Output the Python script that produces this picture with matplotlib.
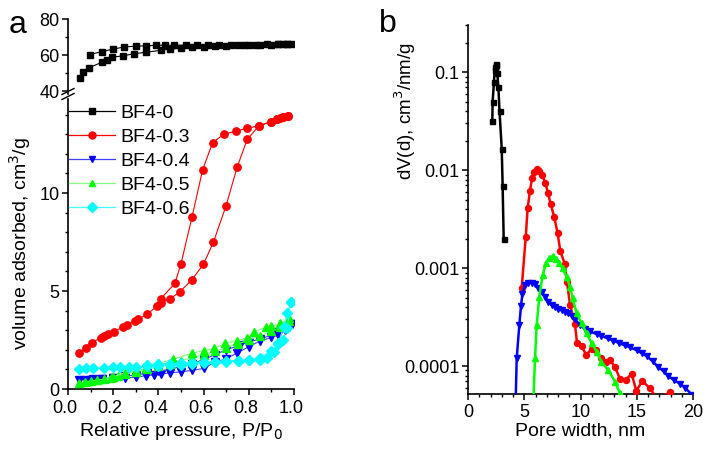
import matplotlib
matplotlib.use("Agg")
import matplotlib.pyplot as plt
from matplotlib.ticker import MultipleLocator, FixedLocator, LogLocator, NullFormatter, FixedFormatter
from matplotlib.lines import Line2D
from matplotlib.transforms import ScaledTranslation

plt.rcParams['font.family'] = ['Liberation Sans', 'DejaVu Sans']

# ---------------- Panel a: isotherms ----------------
labels = ["BF4-0", "BF4-0.3", "BF4-0.4", "BF4-0.5", "BF4-0.6"]
colors = ["#000000", "#ff0000", "#0000ff", "#00ff00", "#00ffff"]
line_colors = ["#000000", "#ff0000", "#4040ff", "#80ff80", "#40ffff"]
markers = ["s", "o", "v", "^", "D"]

p0_ads = [0.053, 0.068, 0.094, 0.149, 0.171, 0.193, 0.245, 0.293, 0.345, 0.41, 0.45, 0.5, 0.55, 0.6,
          0.65, 0.7, 0.75, 0.8, 0.85, 0.9, 0.93, 0.95, 0.97, 0.99]
v0_ads = [47.1, 50.7, 53.0, 55.9, 57.2, 58.7, 59.6, 60.7, 61.5, 62.6, 63.2, 63.8, 64.3, 64.6,
          64.9, 65.1, 65.3, 65.5, 65.6, 65.8, 65.9, 66.0, 66.1, 66.2]
p0_des = [0.97, 0.93, 0.88, 0.83, 0.78, 0.72, 0.67, 0.62, 0.57, 0.52, 0.47, 0.43, 0.39, 0.346,
          0.3, 0.249, 0.198, 0.149, 0.097]
v0_des = [66.1, 66.0, 65.9, 65.8, 65.7, 65.6, 65.6, 65.5, 65.5, 65.4, 65.4, 65.4, 65.4, 65.1,
          64.9, 64.5, 63.2, 61.9, 60.2]

p3_ads = [0.05, 0.078, 0.105, 0.145, 0.16, 0.178, 0.204, 0.245, 0.26, 0.296, 0.31, 0.351, 0.395, 0.41,
          0.451, 0.496, 0.547, 0.599, 0.643, 0.699, 0.749, 0.793, 0.845, 0.897, 0.923, 0.94, 0.953, 0.975]
v3_ads = [1.85, 2.1, 2.36, 2.62, 2.7, 2.79, 2.92, 3.18, 3.25, 3.49, 3.55, 3.83, 4.23, 4.4,
          4.59, 4.97, 5.56, 6.36, 7.48, 9.34, 11.34, 12.74, 13.43, 13.64, 13.78, 13.85, 13.9, 13.95]
p3_des = [0.975, 0.953, 0.923, 0.897, 0.845, 0.79, 0.742, 0.689, 0.64, 0.596, 0.549, 0.5, 0.473, 0.41]
v3_des = [13.95, 13.9, 13.78, 13.64, 13.43, 13.3, 13.16, 13.0, 12.57, 11.2, 8.79, 6.39, 5.39, 4.6]

p4_ads = [0.05, 0.08, 0.11, 0.15, 0.2, 0.25, 0.3, 0.345, 0.38, 0.41, 0.45, 0.5, 0.55, 0.6,
          0.65, 0.7, 0.746, 0.8, 0.85, 0.9, 0.93, 0.96, 0.98, 0.99]
v4_ads = [0.46, 0.48, 0.5, 0.52, 0.55, 0.57, 0.6, 0.68, 0.72, 0.76, 0.82, 0.88, 0.95, 1.05,
          1.36, 1.55, 1.82, 2.16, 2.45, 2.63, 2.76, 3.0, 3.18, 3.3]
p4_des = [0.99, 0.96, 0.93, 0.9, 0.85, 0.8, 0.76, 0.7, 0.65, 0.6, 0.55, 0.5, 0.45, 0.4,
          0.35, 0.3, 0.25, 0.2, 0.15, 0.1]
v4_des = [3.3, 3.05, 2.9, 2.75, 2.55, 2.4, 2.24, 2.0, 1.75, 1.5, 1.3, 1.15, 1.0, 0.9,
          0.8, 0.72, 0.65, 0.58, 0.52, 0.48]

p5_ads = [0.05, 0.075, 0.1, 0.13, 0.16, 0.19, 0.22, 0.25, 0.3, 0.35, 0.4, 0.45, 0.5, 0.55,
          0.6, 0.65, 0.7, 0.75, 0.8, 0.85, 0.9, 0.94, 0.98]
v5_ads = [0.29, 0.37, 0.41, 0.45, 0.5, 0.58, 0.65, 0.75, 0.88, 1.0, 1.15, 1.3, 1.45, 1.6,
          1.75, 1.92, 2.1, 2.3, 2.5, 2.72, 2.95, 3.15, 3.45]
p5_des = [0.98, 0.94, 0.9, 0.876, 0.824, 0.79, 0.746, 0.695, 0.646, 0.6, 0.547, 0.463, 0.4,
          0.345, 0.3, 0.25, 0.2]
v5_des = [3.6, 3.35, 3.2, 3.15, 2.92, 2.58, 2.47, 2.33, 2.07, 1.96, 1.82, 1.51, 1.31,
          1.05, 0.93, 0.83, 0.62]

p6_ads = [0.05, 0.08, 0.11, 0.16, 0.2, 0.23, 0.27, 0.3, 0.35, 0.4, 0.45, 0.5, 0.55, 0.6,
          0.65, 0.7, 0.757, 0.8, 0.85, 0.88, 0.91, 0.93, 0.95, 0.97, 0.985]
v6_ads = [1.02, 1.05, 1.06, 1.08, 1.1, 1.1, 1.12, 1.13, 1.15, 1.18, 1.2, 1.25, 1.3, 1.33,
          1.38, 1.4, 1.43, 1.5, 1.5, 1.6, 1.9, 2.3, 2.5, 3.1, 4.42]
p6_des = [0.985, 0.97, 0.955, 0.93, 0.9, 0.85, 0.8, 0.75, 0.7, 0.65, 0.6, 0.55, 0.5, 0.45, 0.4, 0.35]
v6_des = [4.42, 3.86, 3.15, 2.36, 1.95, 1.6, 1.5, 1.45, 1.45, 1.4, 1.38, 1.35, 1.32, 1.3, 1.28, 1.2]

# ---------------- Panel b: pore size distributions ----------------
d0 = [2.16, 2.19, 2.31, 2.37, 2.42, 2.47, 2.52, 2.6, 2.7, 2.8, 3.0, 3.08, 3.17]
dv0 = [0.0316, 0.05, 0.08, 0.105, 0.112, 0.12, 0.118, 0.098, 0.071, 0.040, 0.0164, 0.0068, 0.002]

d3 = [4.77, 5.13, 5.3, 5.51, 5.69, 5.87, 6.1, 6.34, 6.58, 6.88, 7.11, 7.35, 7.67, 7.97, 8.2, 8.6,
      8.8, 9.07, 9.5, 9.7, 10.1, 10.5, 11.0, 11.4, 11.85, 12.3, 12.6, 13.07, 13.5, 14.0, 14.55,
      14.96, 15.5, 16.2, 16.8, 17.95]
dv3 = [6.2e-4, 2.06e-3, 4.06e-3, 6.15e-3, 8.2e-3, 9.6e-3, 1.02e-2, 9.8e-3, 8.9e-3, 7.4e-3, 5.8e-3,
       4.5e-3, 3.3e-3, 2.26e-3, 1.5e-3, 1.1e-3, 7.2e-4, 4.2e-4, 2.7e-4, 1.7e-4, 1.6e-4, 1.3e-4,
       1.5e-4, 1.45e-4, 1.22e-4, 1.1e-4, 1.15e-4, 9.8e-5, 7.4e-5, 7.2e-5, 8.3e-5, 5.6e-5, 7.0e-5,
       5.9e-5, 4.6e-5, 5.4e-5]

d4 = [4.2, 4.33, 4.56, 4.71, 4.83, 5.07, 5.37, 5.66, 5.96, 6.26, 6.55, 6.85, 7.14, 7.44, 7.73,
      8.03, 8.33, 8.62, 8.92, 9.21, 9.5, 9.96, 10.4, 10.84, 11.44, 11.85, 12.4, 12.9, 13.4, 13.96,
      14.4, 15.0, 15.45, 15.9, 16.4, 16.9, 17.4, 17.8, 18.3, 18.84, 19.3, 19.9]
dv4 = [3e-5, 1.2e-4, 2.6e-4, 4.1e-4, 5.4e-4, 6.7e-4, 7.1e-4, 7.1e-4, 6.8e-4, 6.3e-4, 5.65e-4,
       5.1e-4, 4.5e-4, 4.2e-4, 3.97e-4, 3.8e-4, 3.7e-4, 3.58e-4, 3.45e-4, 3.25e-4, 3.0e-4, 2.62e-4,
       2.4e-4, 2.25e-4, 2.12e-4, 2.03e-4, 1.92e-4, 1.82e-4, 1.72e-4, 1.62e-4, 1.55e-4, 1.45e-4,
       1.35e-4, 1.26e-4, 1.12e-4, 9.8e-5, 8.8e-5, 7.9e-5, 7.2e-5, 6.6e-5, 6.0e-5, 5.1e-5]

d5 = [5.75, 5.96, 6.1, 6.34, 6.64, 6.93, 7.23, 7.53, 7.82, 8.12, 8.41, 8.77, 9.07, 9.3, 9.66,
      10.1, 10.55, 11.0, 11.44, 11.85, 12.47, 13.07, 13.5, 13.8]
dv5 = [3e-5, 1.2e-4, 2.6e-4, 5.1e-4, 8.5e-4, 1.12e-3, 1.26e-3, 1.33e-3, 1.23e-3, 1.12e-3, 9.9e-4,
       8.1e-4, 6.4e-4, 4.9e-4, 3.45e-4, 2.73e-4, 2.15e-4, 1.7e-4, 1.4e-4, 1.1e-4, 9.1e-5, 6.9e-5,
       5.3e-5, 4.0e-5]

# ---------------- Figure ----------------
W, H = 712, 454
fig = plt.figure(figsize=(W / 100, H / 100), dpi=100)

def fx(px):
    return px / W

def fy(py):
    return 1 - py / H

ax_lo = fig.add_axes([fx(68), fy(389), fx(294) - fx(68), fy(99) - fy(389)])
ax_hi = fig.add_axes([fx(68), fy(93.7), fx(294) - fx(68), fy(19) - fy(93.7)])
ax_b = fig.add_axes([fx(468), fy(394), fx(693) - fx(468), fy(25) - fy(394)])

TICK_FS = 13
LABEL_FS = 14

for ax in (ax_lo, ax_hi, ax_b):
    ax.spines['top'].set_visible(False)
    ax.spines['right'].set_visible(False)
    for s in ('left', 'bottom'):
        ax.spines[s].set_linewidth(1.2)
    ax.tick_params(which='major', length=4.5, width=1.1, labelsize=TICK_FS, direction='out', pad=1.5)
    ax.tick_params(which='minor', length=2.5, width=1.0, direction='out')
ax_lo.tick_params(axis='x', which='major', pad=3.5)
ax_b.tick_params(axis='x', which='major', pad=2.5)

a_series = [
    (p0_ads, v0_ads, p0_des, v0_des),
    (p3_ads, v3_ads, p3_des, v3_des),
    (p4_ads, v4_ads, p4_des, v4_des),
    (p5_ads, v5_ads, p5_des, v5_des),
    (p6_ads, v6_ads, p6_des, v6_des),
]
msizes = [4.3, 5.3, 5.3, 5.3, 5.0]
for i, (pa, va, pd, vd) in enumerate(a_series):
    target = ax_hi if i == 0 else ax_lo
    for (px, vy) in ((pa, va), (pd, vd)):
        target.plot(px, vy, color=line_colors[i], lw=0.8, marker=markers[i], ms=msizes[i],
                    mfc=colors[i], mec=colors[i], zorder=3 if i != 1 else 4)

ax_lo.set_xlim(0, 1.0)
ax_hi.set_xlim(0, 1.0)
ax_lo.set_ylim(0, 14.8)
ax_hi.set_ylim(38.5, 80)
ax_lo.xaxis.set_minor_locator(MultipleLocator(0.1))
ax_lo.set_xticks([0.0, 0.2, 0.4, 0.6, 0.8, 1.0])
ax_lo.set_xticklabels(["0.0", "0.2", "0.4", "0.6", "0.8", "1.0"])
shift = ScaledTranslation(-3 / 100, 0, fig.dpi_scale_trans)
for lab in ax_lo.get_xticklabels():
    lab.set_transform(lab.get_transform() + shift)
ax_lo.yaxis.set_major_locator(FixedLocator([0, 5, 10]))
ax_lo.yaxis.set_minor_locator(FixedLocator([1, 2, 3, 4, 6, 7, 8, 9, 11, 12, 13, 14]))
ax_hi.yaxis.set_major_locator(FixedLocator([40, 60, 80]))
ax_hi.yaxis.set_minor_locator(FixedLocator([50, 70]))
ax_hi.spines['bottom'].set_visible(False)
ax_hi.tick_params(axis='x', which='both', bottom=False, labelbottom=False)
ax_hi.patch.set_alpha(0)
ax_lo.patch.set_alpha(0)

ax_lo.set_xlabel("Relative pressure, P/P$_0$", fontsize=LABEL_FS, labelpad=3)
ax_lo.set_ylabel("volume adsorbed, cm$^3$/g", fontsize=LABEL_FS, labelpad=5)

# axis break marks
for yb in (91.5, 96.5):
    fig.add_artist(Line2D([fx(62), fx(74)], [fy(yb + 3), fy(yb - 3)], color='black', lw=1.0))

handles = [Line2D([], [], color=line_colors[i], lw=0.9, marker=markers[i], ms=msizes[i] * 0.95,
                  mfc=colors[i], mec=colors[i]) for i in range(5)]
ax_lo.legend(handles, labels, loc='upper left', bbox_to_anchor=(fx(69), fy(104)),
             bbox_transform=fig.transFigure, frameon=False, fontsize=14, handlelength=2.35,
             handletextpad=0.3, labelspacing=0.33, borderpad=0.0, borderaxespad=0.0)

fig.text(fx(18), fy(25), "a", fontsize=23, ha='center', va='center')

# ---------------- Panel b ----------------
b_series = [(d0, dv0), (d3, dv3), (d4, dv4), (d5, dv5)]
b_ms = [3.6, 4.3, 4.3, 4.3]
for i, (dx, dy) in enumerate(b_series):
    ax_b.plot(dx, dy, color=colors[i], lw=1.8, marker=markers[i], ms=b_ms[i],
              mfc=colors[i], mec=colors[i], zorder=3)

ax_b.set_yscale('log')
ax_b.set_xlim(0, 20)
ax_b.set_ylim(5.18e-5, 0.302)
ax_b.xaxis.set_major_locator(MultipleLocator(5))
ax_b.xaxis.set_minor_locator(MultipleLocator(1))
ax_b.yaxis.set_major_locator(FixedLocator([1e-4, 1e-3, 1e-2, 1e-1]))
ax_b.yaxis.set_major_formatter(FixedFormatter(["0.0001", "0.001", "0.01", "0.1"]))
ax_b.yaxis.set_minor_locator(LogLocator(base=10, subs=range(2, 10), numticks=20))
ax_b.yaxis.set_minor_formatter(NullFormatter())
ax_b.set_xlabel("Pore width, nm", fontsize=LABEL_FS, labelpad=1)
ax_b.set_ylabel("dV(d), cm$^3$/nm/g", fontsize=13.5)
ax_b.yaxis.set_label_coords(-0.222, 0.767)

fig.text(fx(388), fy(24), "b", fontsize=23, ha='center', va='center')

fig.savefig("out.png", dpi=100)
